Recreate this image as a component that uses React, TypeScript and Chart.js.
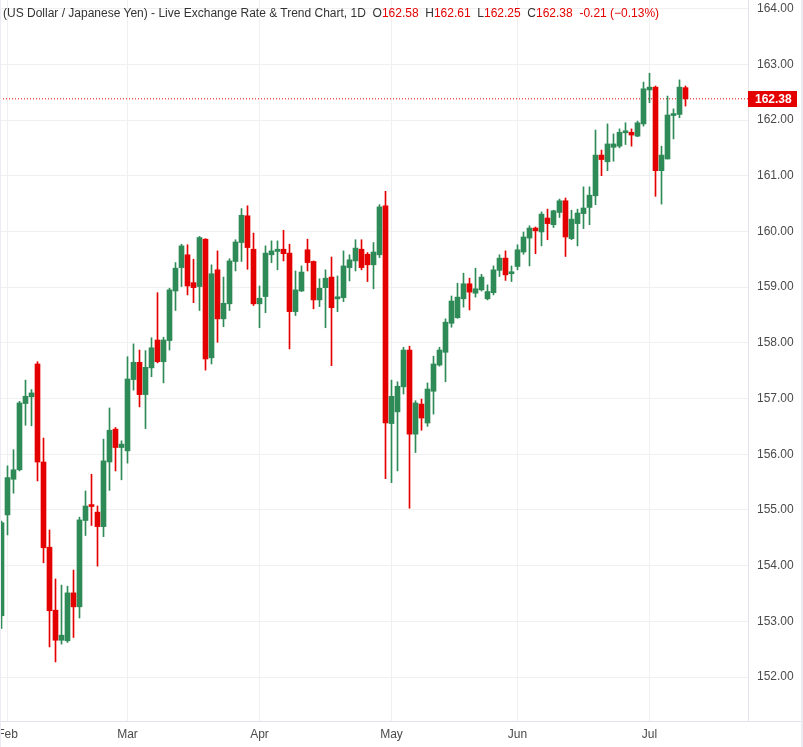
import React, { useEffect, useRef } from "react";
import { Chart, registerables } from "chart.js";
Chart.register(...registerables);

// candle index of the first value below (Feb 1 = index 0)
const firstIndex = -1;
const opens = [
  153.10, 154.91, 155.55, 155.72, 156.91, 157.03, 157.62, 155.86, 154.33, 153.20,
  152.66, 152.65, 153.51, 153.26, 154.81, 155.09, 154.96, 154.70, 155.86, 156.45,
  156.12, 156.06, 157.34, 157.65, 157.07, 157.55, 158.05, 157.66, 158.04, 158.93,
  159.35, 159.58, 159.08, 159.01, 159.86, 157.73, 159.31, 158.43, 158.70, 159.46,
  159.80, 160.28, 159.68, 158.70, 158.83, 159.58, 159.64, 159.68, 159.61, 158.56,
  158.93, 159.67, 159.46, 158.77, 158.99, 159.18, 158.79, 158.81, 159.35, 159.47,
  159.68, 159.59, 159.40, 159.58, 160.46, 156.55, 156.76, 157.21, 157.87, 156.36,
  156.90, 156.56, 157.13, 157.60, 157.83, 158.35, 158.45, 158.79, 159.06, 158.89,
  158.95, 158.79, 158.90, 159.30, 159.52, 159.24, 159.37, 159.63, 159.88, 160.06,
  159.99, 160.24, 160.12, 160.34, 160.55, 159.87, 160.14, 160.32, 160.43, 160.64,
  161.37, 161.25, 161.51, 161.53, 161.77, 161.78, 161.71, 161.93, 162.54, 162.59,
  161.09, 161.30, 162.08, 162.10, 162.58,
];
const highs = [
  154.80, 155.79, 156.08, 156.95, 157.33, 157.16, 157.66, 156.29, 154.64, 153.76,
  153.65, 153.63, 153.92, 154.87, 155.34, 155.64, 155.07, 156.27, 156.83, 156.48,
  156.24, 157.75, 157.98, 157.87, 157.86, 158.09, 158.90, 158.10, 158.98, 159.44,
  159.77, 159.76, 159.50, 159.91, 159.87, 159.40, 159.65, 159.18, 159.51, 159.85,
  160.41, 160.46, 159.97, 159.02, 159.74, 159.83, 159.83, 160.02, 159.77, 159.29,
  159.38, 159.86, 159.47, 159.15, 159.31, 159.54, 159.20, 159.65, 159.58, 159.85,
  159.85, 159.62, 159.80, 160.48, 160.72, 157.33, 157.30, 157.92, 157.94, 156.96,
  156.99, 157.28, 157.76, 157.92, 158.43, 158.84, 159.07, 159.25, 159.16, 159.34,
  159.23, 159.04, 159.38, 159.58, 159.65, 159.38, 159.76, 159.99, 160.10, 160.08,
  160.35, 160.40, 160.38, 160.58, 160.60, 160.38, 160.40, 160.80, 160.80, 161.82,
  161.46, 161.93, 161.75, 161.84, 161.95, 161.84, 161.98, 162.68, 162.84, 162.61,
  161.53, 162.43, 162.20, 162.72, 162.61,
];
const lows = [
  152.87, 154.55, 155.30, 155.70, 156.52, 156.51, 155.52, 154.05, 152.54, 152.27,
  152.59, 152.62, 152.71, 153.06, 154.54, 154.72, 153.99, 154.52, 155.35, 155.70,
  155.54, 155.84, 157.15, 156.85, 156.46, 157.39, 157.64, 157.28, 157.87, 158.58,
  159.01, 158.86, 158.72, 158.58, 157.51, 157.62, 158.01, 158.29, 158.58, 159.29,
  159.46, 159.32, 158.67, 158.27, 158.54, 159.44, 159.31, 159.47, 157.89, 158.49,
  158.92, 159.29, 158.61, 158.65, 158.27, 157.59, 158.56, 158.74, 159.11, 159.29,
  159.31, 159.10, 158.97, 159.53, 155.56, 155.49, 155.70, 157.08, 155.03, 156.03,
  156.43, 156.50, 156.72, 157.58, 157.30, 158.28, 158.44, 158.64, 158.59, 158.82,
  158.93, 158.77, 158.86, 159.19, 159.12, 159.10, 159.31, 159.59, 159.38, 159.60,
  159.74, 159.85, 160.07, 160.25, 159.55, 159.85, 159.74, 160.05, 160.12, 160.48,
  161.00, 161.09, 161.26, 161.50, 161.56, 161.53, 161.70, 161.89, 162.31, 160.63,
  160.49, 161.30, 161.66, 162.04, 162.25,
];
const closes = [
  154.77, 155.58, 155.72, 156.92, 157.04, 157.10, 155.86, 154.32, 153.19, 152.66,
  152.75, 153.51, 153.26, 154.82, 155.07, 155.06, 154.70, 155.88, 156.43, 156.12,
  156.18, 157.35, 157.65, 157.07, 157.56, 157.91, 157.66, 158.05, 158.95, 159.34,
  159.74, 159.02, 158.99, 159.89, 157.71, 159.24, 158.43, 158.71, 159.47, 159.81,
  160.29, 159.71, 158.70, 158.80, 159.61, 159.65, 159.68, 159.60, 158.56, 158.95,
  159.27, 159.44, 158.77, 158.98, 159.16, 158.63, 158.82, 159.38, 159.49, 159.70,
  159.35, 159.40, 159.63, 160.44, 156.56, 157.04, 157.22, 157.87, 156.36, 156.92,
  156.65, 157.17, 157.62, 157.87, 158.37, 158.75, 158.82, 159.06, 158.91, 158.97,
  159.18, 158.92, 159.31, 159.52, 159.22, 159.27, 159.67, 159.90, 160.06, 160.01,
  160.31, 160.14, 160.37, 160.55, 159.90, 160.22, 160.33, 160.42, 160.65, 161.37,
  161.29, 161.57, 161.57, 161.78, 161.78, 161.73, 161.95, 162.56, 162.59, 161.09,
  161.37, 162.09, 162.11, 162.59, 162.38,
];

const monthLabels = ["Feb", "Mar", "Apr", "May", "Jun", "Jul"];
const monthIndices = [0, 20, 42, 64, 85, 107];
const priceTicks = [152, 153, 154, 155, 156, 157, 158, 159, 160, 161, 162, 163, 164];
const lastPrice = 162.38;

const UP = "#2e8b57";
const DOWN = "#e50000";
const FONT = '"Liberation Sans", Arial, sans-serif';
const FRAME = "#e0e3eb";

const framePlugin = {
  id: "frameLines",
  afterDraw(chart: any) {
    const { ctx, chartArea, width } = chart;
    ctx.save();
    ctx.strokeStyle = FRAME;
    ctx.lineWidth = 1;
    ctx.beginPath();
    const y = Math.round(chartArea.bottom) + 0.5;
    ctx.moveTo(0, y);
    ctx.lineTo(width, y);
    ctx.stroke();
    ctx.restore();
  },
};

const priceLabelPlugin = {
  id: "priceLabel",
  afterDraw(chart: any) {
    const { ctx, chartArea, scales } = chart;
    const y = scales.y.getPixelForValue(lastPrice);
    ctx.save();
    ctx.fillStyle = DOWN;
    ctx.fillRect(chartArea.right, Math.round(y) - 8, 49, 16);
    ctx.fillStyle = "#ffffff";
    ctx.font = "bold 12px " + FONT;
    ctx.textBaseline = "middle";
    ctx.textAlign = "left";
    ctx.fillText(lastPrice.toFixed(2), chartArea.right + 7, Math.round(y) + 0.5);
    ctx.restore();
  },
};

export default function App() {
  const ref = useRef<HTMLCanvasElement>(null);

  useEffect(() => {
    if (!ref.current) return;
    const colors = opens.map((o, i) => (closes[i] >= o ? UP : DOWN));
    const bodies = opens.map((o, i) => ({ x: firstIndex + i, y: [o, closes[i]] }));
    const wicks = opens.map((_, i) => ({ x: firstIndex + i, y: [lows[i], highs[i]] }));
    const xMin = -1.25;
    const xMax = 123.4167;

    const chart = new Chart(ref.current, {
      type: "bar",
      data: {
        datasets: [
          {
            type: "line",
            data: [
              { x: xMin, y: lastPrice },
              { x: xMax, y: lastPrice },
            ],
            borderColor: DOWN,
            borderWidth: 1,
            borderDash: [1, 2],
            pointRadius: 0,
            order: 3,
          } as any,
          {
            data: wicks as any,
            backgroundColor: colors,
            barThickness: 1,
            grouped: false,
            borderWidth: 0,
            order: 2,
          },
          {
            data: bodies as any,
            backgroundColor: colors,
            barThickness: 5,
            grouped: false,
            borderWidth: 0,
            minBarLength: 2,
            order: 1,
          },
        ],
      },
      options: {
        responsive: false,
        animation: false,
        devicePixelRatio: 1,
        layout: { padding: 0 },
        plugins: {
          legend: { display: false },
          tooltip: { enabled: false },
          title: { display: false },
        },
        scales: {
          x: {
            type: "linear",
            min: xMin,
            max: xMax,
            offset: false,
            afterBuildTicks: (scale: any) => {
              scale.ticks = monthIndices.map((v) => ({ value: v }));
            },
            afterFit: (scale: any) => {
              scale.height = 26;
              scale.paddingLeft = 0;
              scale.paddingRight = 0;
            },
            grid: { color: "#f0f0f0", drawTicks: false, offset: false },
            border: { display: false },
            ticks: {
              autoSkip: false,
              maxRotation: 0,
              padding: 6,
              color: "#4a4a4a",
              font: { family: FONT, size: 12 },
              callback: (_v: any, i: number) => monthLabels[i],
            },
          },
          y: {
            type: "linear",
            position: "right",
            min: 151.2101,
            max: 164.1544,
            afterBuildTicks: (scale: any) => {
              scale.ticks = priceTicks.map((v) => ({ value: v }));
            },
            afterFit: (scale: any) => {
              scale.width = 55;
              scale.paddingTop = 0;
              scale.paddingBottom = 0;
            },
            grid: { color: "#f0f0f0", drawTicks: false },
            border: { display: true, color: FRAME },
            ticks: {
              padding: 9,
              color: "#4a4a4a",
              font: { family: FONT, size: 12 },
              callback: (v: any) => Number(v).toFixed(2),
            },
          },
        },
      },
      plugins: [framePlugin, priceLabelPlugin],
    });
    return () => chart.destroy();
  }, []);

  const red = { color: DOWN };
  return (
    <div style={{ position: "absolute", left: 0, top: 0, width: 803, height: 747, background: "#fff", overflow: "hidden" }}>
      <canvas ref={ref} width={803} height={747} style={{ display: "block" }} />
      <div
        style={{
          position: "absolute",
          left: 3,
          top: 6,
          fontFamily: FONT,
          fontSize: 12,
          color: "#333",
          whiteSpace: "pre",
          lineHeight: "14px",
        }}
      >
        <span>(US Dollar / Japanese Yen) - Live Exchange Rate &amp; Trend Chart, 1D  </span>
        <span>O</span>
        <span style={red}>162.58</span>
        <span>  H</span>
        <span style={red}>162.61</span>
        <span>  L</span>
        <span style={red}>162.25</span>
        <span>  C</span>
        <span style={red}>162.38</span>
        <span style={red}>  -0.21 (−0.13%)</span>
      </div>
      <div style={{ position: "absolute", left: 0, top: 0, width: 1, height: 747, background: "#ebebf3" }} />
      <div style={{ position: "absolute", left: 801, top: 0, width: 2, height: 747, background: "#ebebf3" }} />
    </div>
  );
}
